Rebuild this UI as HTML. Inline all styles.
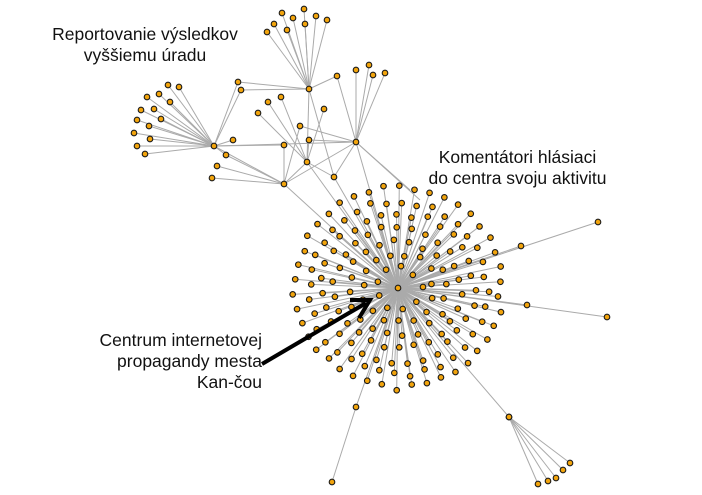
<!DOCTYPE html>
<html><head><meta charset="utf-8"><style>
body{margin:0;background:#fff;width:702px;height:495px;overflow:hidden;position:relative;font-family:"Liberation Sans",sans-serif}
.t{position:absolute;font-size:17px;color:#111;text-align:center;line-height:21px}
svg{position:absolute;left:0;top:0}
</style></head><body>
<svg id="g" width="702" height="495" xmlns="http://www.w3.org/2000/svg"><g id="e" stroke="#aaa" stroke-width="1"></g><g id="n" fill="#f2a40c" stroke="#1a1a1a" stroke-width="1.1"></g>
<line x1="262" y1="364" x2="366" y2="303" stroke="#000" stroke-width="4"/>
<polyline points="350,300 370,300 359,318" fill="none" stroke="#000" stroke-width="4"/>
</svg>
<div class="t" style="left:45px;top:24px;width:200px;font-size:17.5px">Reportovanie výsledkov<br>vyššiemu úradu</div>
<div class="t" style="left:410px;top:147px;width:215px;font-size:17.5px">Komentátori hlásiaci<br>do centra svoju aktivitu</div>
<div class="t" style="left:62px;top:330px;width:200px;text-align:right;font-size:17.5px">Centrum internetovej<br>propagandy mesta<br>Kan-čou</div>
<script>
var E=document.getElementById('e'),N=document.getElementById('n'),ns='http://www.w3.org/2000/svg';
function L(a,b){var l=document.createElementNS(ns,'line');l.setAttribute('x1',a[0]);l.setAttribute('y1',a[1]);l.setAttribute('x2',b[0]);l.setAttribute('y2',b[1]);E.appendChild(l);}
function C(p){var c=document.createElementNS(ns,'circle');c.setAttribute('cx',p[0]);c.setAttribute('cy',p[1]);c.setAttribute('r',2.8);N.appendChild(c);}
var H=[398,288],A=[309,89],B=[214,146],Cc=[356,142],D=[284,184],F=[307,162],G=[334,177],Eh=[509,417];
var pts=[H,A,B,Cc,D,F,G,Eh];
function fan(h,ls){ls.forEach(function(p){L(h,p);pts.push(p);});}
fan(A,[[267,32],[274,24],[282,13],[287,30],[293,18],[304,9],[305,24],[316,16],[327,20],[238,82],[241,90],[337,76]]);
fan(B,[[168,85],[179,87],[159,94],[147,97],[170,102],[141,110],[154,109],[161,119],[137,120],[149,126],[134,133],[150,139],[137,146],[145,154],[233,140]]);
L(B,[238,82]);L(B,[241,90]);L(B,[284,145]);pts.push([284,145]);L(B,Cc);L(B,D);L(B,[226,155]);
fan(Cc,[[356,70],[369,65],[373,75],[385,73],[300,126],[309,140]]);L(Cc,[337,76]);L(Cc,D);
fan(D,[[217,166],[212,178],[226,155]]);L(D,[300,126]);L(D,[284,145]);L(D,F);
fan(F,[[268,102],[281,97],[258,113],[324,109]]);L(F,A);L(F,[309,140]);L(A,G);L(F,G);L(Cc,G);
[D,F,G,Cc].forEach(function(p){L(H,p);});
L(Cc,[410,190]);L(Cc,[420,200]);
fan(H,[[598,222],[521,246],[527,305],[607,317],[356,407],Eh]);L([356,407],[332,482]);pts.push([332,482]);
fan(Eh,[[570,463],[563,470],[556,478],[548,481],[538,484]]);
var s=7;function rnd(){s=(s*9301+49297)%233280;return s/233280;}
var R=[22,35,48,61,74,87,100];
R.forEach(function(r,i){var n=Math.round(2*Math.PI*r/15);var o=rnd()*6;for(var k=0;k<n;k++){var a=(k+o)/n*2*Math.PI;var rr=r+(rnd()-0.5)*6;var p=[H[0]+rr*1.03*Math.cos(a),H[1]+rr*Math.sin(a)];L(H,p);pts.push(p);}});
pts.forEach(C);
</script>
</body></html>
